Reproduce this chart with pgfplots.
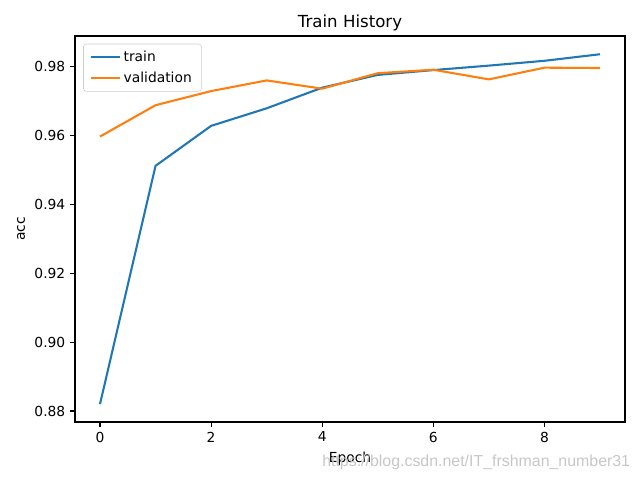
\documentclass[border=0pt]{standalone}
\usepackage{pgfplots}
\pgfplotsset{compat=1.18}
\usepackage{fontspec}
\setmainfont{DejaVu Sans}
\newfontfamily\wmfont{Liberation Sans}
\definecolor{mplblue}{HTML}{1F77B4}
\definecolor{mplorange}{HTML}{FF7F0E}
\begin{document}
\begin{tikzpicture}
\useasboundingbox (0,0) rectangle (6.4in,4.8in);
\begin{axis}[
  at={(0.75in,0.58in)}, anchor=south west,
  scale only axis, width=5.5in, height=3.86in,
  xmin=-0.45, xmax=9.45, ymin=0.8768, ymax=0.9889,
  xtick={0,2,4,6,8},
  ytick={0.88,0.90,0.92,0.94,0.96,0.98},
  yticklabel style={/pgf/number format/fixed,/pgf/number format/precision=2,/pgf/number format/fixed zerofill},
  /pgf/number format/assume math mode=true,
  scaled y ticks=false,
  tick align=outside, tick pos=left,
  major tick length=3.5pt,
  every tick/.style={black, line width=0.8pt},
  axis line style={line width=0.8pt},
  font=\fontsize{10}{12}\selectfont,
  ticklabel style={font=\fontsize{10}{12}\selectfont},
  title={Train History}, title style={font=\fontsize{12}{14}\selectfont, yshift=-6pt},
  xlabel={Epoch}, ylabel={acc},
  legend style={at={(0.015,0.98)}, anchor=north west, draw=black!20, rounded corners=2pt, font=\fontsize{10}{12}\selectfont, row sep=2pt, inner xsep=5pt, inner ysep=3pt},
  legend cell align=left,
  legend image code/.code={\draw[#1, line width=1.5pt] (0cm,0cm) -- (0.72cm,0cm);},
]
\addplot[mplblue, line width=1.5pt] coordinates {
(0,0.8820) (1,0.9512) (2,0.9628) (3,0.9679) (4,0.9739) (5,0.9776) (6,0.9790) (7,0.9803) (8,0.9817) (9,0.9836)};
\addlegendentry{train}
\addplot[mplorange, line width=1.5pt] coordinates {
(0,0.9597) (1,0.9688) (2,0.9729) (3,0.9760) (4,0.9736) (5,0.9781) (6,0.9791) (7,0.9763) (8,0.9797) (9,0.9796)};
\addlegendentry{validation}
\end{axis}
\node[anchor=east, text=black!22, font=\wmfont\fontsize{11.5}{13}\selectfont] at (6.35in,0.18in) {https://blog.csdn.net/IT\_frshman\_number31};
\end{tikzpicture}
\end{document}
